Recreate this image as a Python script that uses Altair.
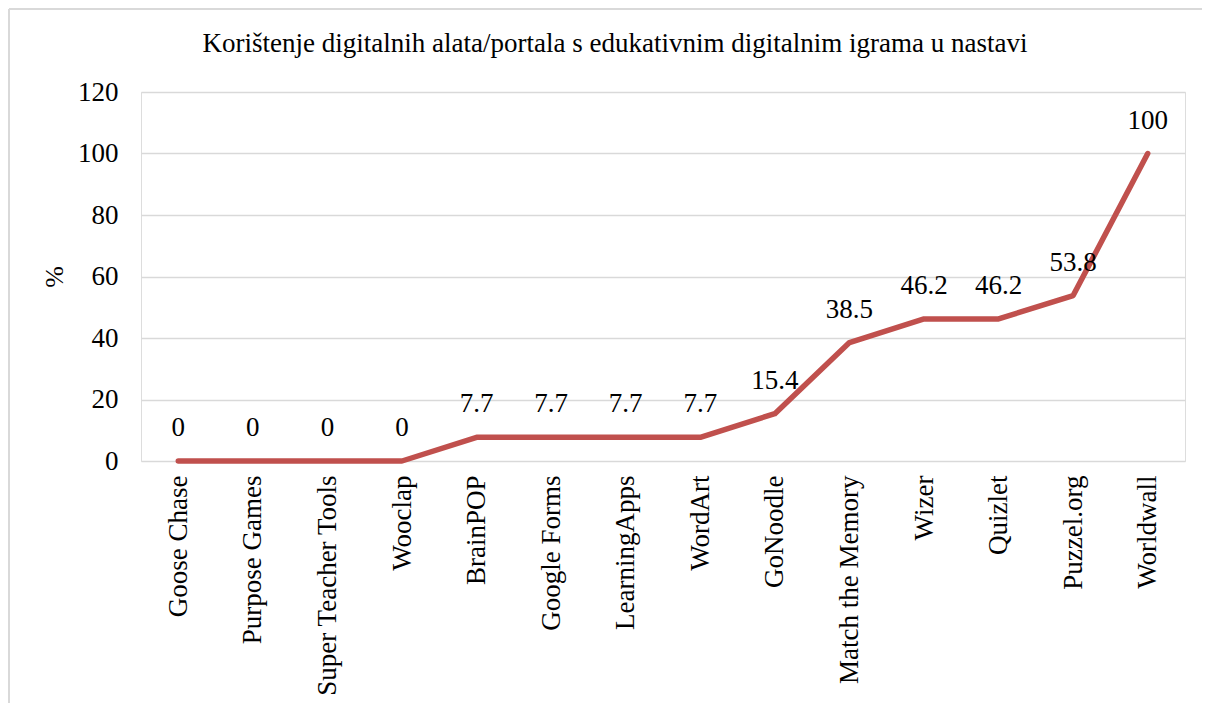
import altair as alt
import pandas as pd

categories = ["Goose Chase", "Purpose Games", "Super Teacher Tools", "Wooclap",
              "BrainPOP", "Google Forms", "LearningApps", "WordArt", "GoNoodle",
              "Match the Memory", "Wizer", "Quizlet", "Puzzel.org", "Worldwall"]
values = [0, 0, 0, 0, 7.7, 7.7, 7.7, 7.7, 15.4, 38.5, 46.2, 46.2, 53.8, 100]
y_ticks = [0, 20, 40, 60, 80, 100, 120]

title_text = "Korištenje digitalnih alata/portala s edukativnim digitalnim igrama u nastavi"

df = pd.DataFrame({"tool": categories, "pct": values})
df["label"] = [("%g" % v) for v in values]

FONT = "Liberation Serif"
FS = 27
W, H = 1044, 369

x_enc = alt.X("tool:N", sort=categories,
              scale=alt.Scale(type="point", padding=0.5),
              axis=alt.Axis(title=None, labelAngle=-90, labelFontSize=FS, labelFont=FONT,
                            labelColor="#000000", ticks=False, domain=False, labelPadding=14,
                            grid=False, labelLimit=400))
y_enc = alt.Y("pct:Q", scale=alt.Scale(domain=[0, 120], nice=False),
              axis=alt.Axis(title="%", values=y_ticks, labelFontSize=FS, labelFont=FONT,
                            labelColor="#000000", ticks=False, domain=False, labelPadding=23,
                            grid=True, gridColor="#D9D9D9", gridWidth=1.5,
                            titleFontSize=26, titleFont=FONT, titleFontWeight="normal",
                            titleColor="#000000", titlePadding=10))

base = alt.Chart(df)

line = base.mark_line(color="#C0504D", strokeWidth=5.5, strokeCap="round", strokeJoin="round").encode(
    x=x_enc, y=y_enc)

labels = base.mark_text(font=FONT, fontSize=FS, color="#000000", baseline="alphabetic",
                        align="center", dy=-25).encode(
    x=alt.X("tool:N", sort=categories), y=alt.Y("pct:Q"), text="label:N")

border_data = alt.Data(values=[{"k": 1}])
top_border = alt.Chart(border_data).mark_rule(color="#D9D9D9", strokeWidth=2).encode(
    x=alt.value(-132), x2=alt.value(W + 17), y=alt.value(-83))
left_border = alt.Chart(border_data).mark_rule(color="#D9D9D9", strokeWidth=2).encode(
    x=alt.value(-132), y=alt.value(-83), y2=alt.value(H + 242))

chart = alt.layer(top_border, left_border, line, labels).properties(
    width=W, height=H,
    title=alt.TitleParams(title_text, font=FONT, fontSize=27, fontWeight="normal",
                          color="#000000", anchor="middle", dx=-48, offset=-71,
                          baseline="alphabetic"),
    autosize=alt.AutoSizeParams(type="none"),
    padding={"left": 133, "top": 84, "right": 17, "bottom": 242},
).configure_view(stroke=None).configure(background="#FFFFFF")

chart.save("out.html", embed_options={"renderer": "svg", "actions": False})
